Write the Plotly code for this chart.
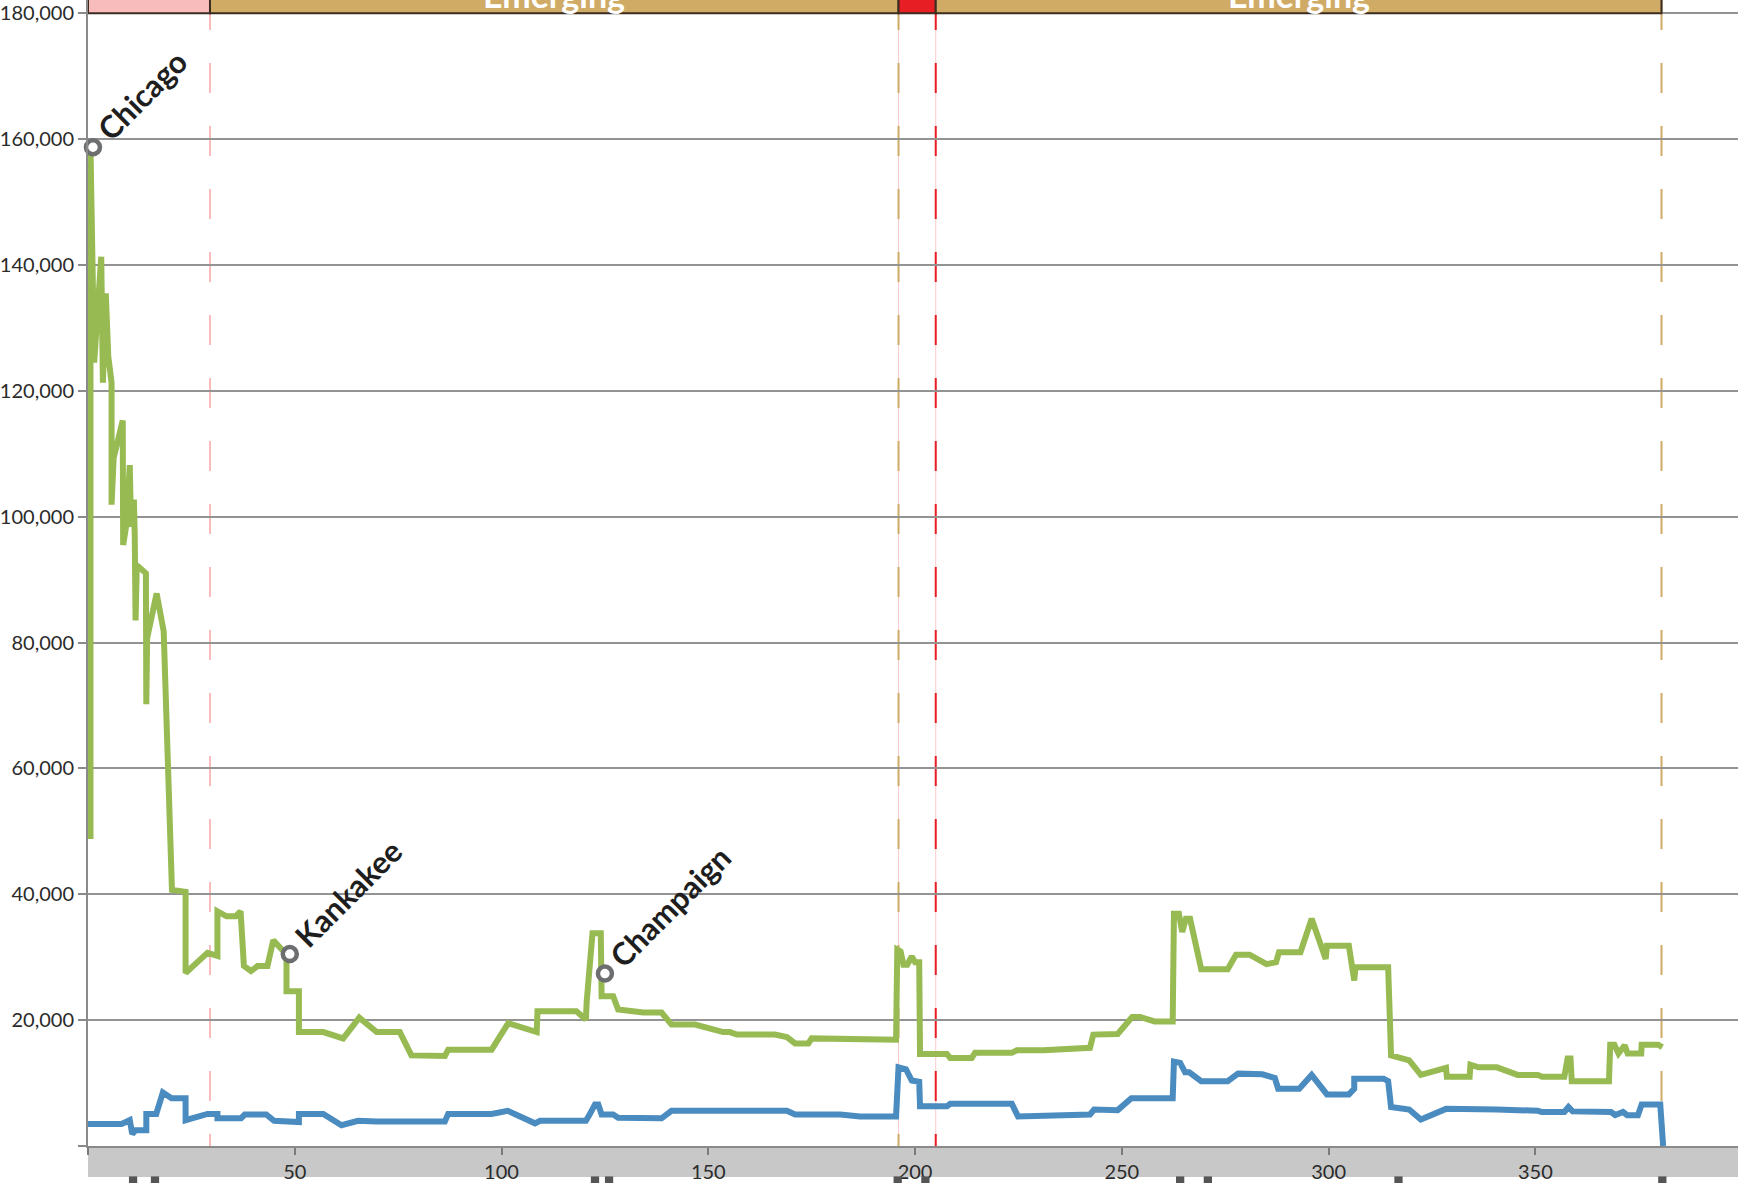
import plotly.graph_objects as go

# ---------------- data ----------------
green_x = [0.6, 0.6, 1.5, 3.2, 3.6, 4.3, 4.9, 5.7, 5.7, 6.2, 8.4, 8.5, 9.3, 10.1, 10.4, 11.1, 11.3, 11.5,
           11.8, 13.0, 14.0, 14.1, 14.3, 16.6, 18.3, 20.3, 23.6, 23.6, 28.9, 31.3, 31.3, 33.5, 35.7, 36.9,
           37.7, 39.4, 41.0, 43.4, 44.8, 47.2, 48.0, 48.0, 51.0, 51.0, 56.9, 61.7, 65.6, 69.8, 75.4, 78.2,
           86.3, 87.1, 97.6, 101.6, 108.5, 108.7, 118.1, 120.4, 120.6, 122.0, 124.0, 124.2, 127.0, 128.2,
           134.3, 138.7, 141.1, 146.8, 153.6, 155.2, 156.9, 166.1, 169.0, 171.0, 174.2, 175.0, 181.9, 186.7,
           195.4, 195.7, 196.5, 197.2, 198.1, 199.2, 200.0, 201.0, 201.2, 207.7, 208.5, 213.7, 214.5, 223.4,
           224.6, 231.0, 242.3, 243.1, 249.0, 252.5, 254.4, 257.9, 262.3, 262.6, 263.8, 264.6, 265.5, 266.5,
           269.2, 275.6, 277.6, 280.9, 285.0, 287.3, 288.0, 293.2, 295.9, 299.3, 299.6, 304.9, 305.9, 306.2,
           306.5, 314.4, 315.1, 319.5, 322.3, 328.4, 328.6, 334.1, 334.3, 336.3, 340.7, 345.7, 350.6, 351.6,
           357.0, 357.8, 358.5, 358.8, 367.8, 368.1, 369.1, 370.1, 371.6, 372.3, 375.6, 375.7, 379.7, 380.7]
green_y = [48800, 158700, 124500, 141300, 121300, 135500, 125500, 121300, 101900, 109300, 115300, 95500,
           98800, 108200, 98400, 102700, 97100, 83500, 92300, 91600, 91000, 70200, 80700, 87800, 81800,
           40700, 40400, 27500, 30700, 30200, 37300, 36500, 36500, 37300, 28600, 27800, 28600, 28600, 32700,
           31000, 30000, 24600, 24600, 18100, 18100, 17100, 20400, 18100, 18100, 14400, 14300, 15300, 15300,
           19500, 18100, 21400, 21400, 20100, 23000, 33800, 33800, 23800, 23800, 21700, 21200, 21200, 19300,
           19300, 18100, 18100, 17700, 17700, 17300, 16300, 16300, 17100, 17100, 16900, 16900, 31200, 30900,
           28800, 28800, 30100, 29200, 29200, 14600, 14600, 14000, 14000, 14800, 14800, 15200, 15200, 15600,
           17700, 17800, 20500, 20500, 19800, 19800, 36900, 36900, 34000, 36100, 36100, 28100, 28100, 30400,
           30400, 28900, 29200, 30800, 30800, 36100, 29700, 31800, 31800, 28100, 26300, 28400, 28400, 14400,
           13600, 11300, 12400, 11000, 11000, 12900, 12500, 12500, 11300, 11300, 11000, 11000, 13900, 13900,
           10300, 10300, 16100, 16100, 14700, 16000, 14700, 14700, 16100, 16100, 15700]

blue_x = [0.0, 8.1, 10.1, 10.7, 11.5, 14.1, 14.1, 16.5, 18.1, 20.2, 23.6, 23.6, 28.9, 31.3, 31.3, 37.0,
          37.9, 43.1, 45.0, 51.0, 51.0, 56.9, 61.3, 65.3, 69.8, 86.3, 87.1, 97.6, 101.5, 108.1, 109.3,
          120.4, 121.4, 122.6, 123.4, 124.2, 127.0, 128.2, 138.7, 141.1, 169.0, 171.0, 181.9, 186.7, 195.4,
          196.0, 197.8, 199.2, 201.0, 201.2, 207.7, 208.5, 223.4, 224.9, 242.3, 243.3, 249.0, 252.3, 262.3,
          262.6, 264.1, 264.8, 265.3, 266.3, 269.2, 275.6, 278.1, 284.0, 287.0, 287.8, 292.9, 295.9, 299.6,
          304.9, 306.2, 306.2, 313.3, 314.4, 315.1, 319.5, 322.3, 328.4, 334.1, 340.7, 350.6, 351.6, 357.0,
          358.0, 359.0, 368.3, 369.3, 371.2, 372.2, 374.8, 375.7, 380.2, 380.9]
blue_y = [3500, 3500, 4100, 1900, 2500, 2500, 5100, 5100, 8500, 7600, 7600, 4100, 5100, 5100, 4400, 4400,
          5000, 5000, 4000, 3800, 5100, 5100, 3300, 4000, 3900, 3900, 5100, 5100, 5600, 3600, 4000, 4000,
          5100, 6600, 6600, 5000, 5000, 4500, 4400, 5600, 5600, 5000, 5000, 4700, 4700, 12500, 12200, 10400,
          10200, 6300, 6300, 6700, 6700, 4700, 5000, 5800, 5700, 7600, 7600, 13400, 13200, 12500, 11700,
          11700, 10300, 10300, 11500, 11400, 10800, 9100, 9100, 11300, 8200, 8200, 9100, 10700, 10700, 10300,
          6200, 5800, 4200, 5900, 5900, 5800, 5600, 5400, 5400, 6200, 5500, 5400, 4900, 5400, 4900, 4900,
          6600, 6600, 0]

city_names = ["Chicago", "Kankakee", "Champaign"]
city_x = [1.2, 48.8, 125.0]
city_y = [158700, 30500, 27400]

band_starts = [0, 29.5, 196, 205]
band_ends = [29.5, 196, 205, 380.5]
band_labels = ["", "Emerging", "", "Emerging"]
band_colors = ["#f9bcbc", "#cfab66", "#e81e25", "#cfab66"]

rug_x = [10.9, 16.2, 122.6, 126.0, 195.8, 202.5, 264.1, 270.8, 316.9, 380.7]

y_ticks = [0, 20000, 40000, 60000, 80000, 100000, 120000, 140000, 160000, 180000]
x_ticks = [0, 50, 100, 150, 200, 250, 300, 350]

GREEN = "#97bb52"
BLUE = "#4a8bc0"
FONT = "Lato"

fig = go.Figure()
fig.add_trace(go.Scatter(x=green_x, y=green_y, mode="lines",
                         line=dict(color=GREEN, width=6), hoverinfo="skip", showlegend=False))
fig.add_trace(go.Scatter(x=blue_x, y=blue_y, mode="lines",
                         line=dict(color=BLUE, width=6), hoverinfo="skip", showlegend=False))
fig.add_trace(go.Scatter(x=city_x, y=city_y, mode="markers",
                         marker=dict(size=14, color="white", line=dict(color="#6d6e70", width=4.5)),
                         hoverinfo="skip", showlegend=False, cliponaxis=False))

for name, cx, cy in zip(city_names, city_x, city_y):
    fig.add_annotation(x=cx, y=cy, text="<b>" + name + "</b>", showarrow=False, textangle=-45,
                       xanchor="left", yanchor="bottom", xshift=-6, yshift=-3,
                       font=dict(family=FONT, size=31, color="#1e1e1e"))

shapes = []
# top phase bands
for s, e, c in zip(band_starts, band_ends, band_colors):
    shapes.append(dict(type="rect", xref="x", yref="y", x0=s, x1=e, y0=180000, y1=200000,
                       fillcolor=c, line=dict(color="#3b2c20", width=2), layer="above"))
# thin light lines at red band edges
for xv in [band_starts[2], band_ends[2]]:
    shapes.append(dict(type="line", xref="x", yref="paper", x0=xv, x1=xv, y0=1, y1=0,
                       line=dict(color="#f9caca", width=1), layer="below"))
# dashed boundary lines, coloured like the band they close
for e, c in zip(band_ends, band_colors):
    shapes.append(dict(type="line", xref="x", yref="paper", x0=e, x1=e, y0=1, y1=0,
                       line=dict(color=c, width=2, dash="30px,33px"), layer="below"))
# grey band under the x axis
shapes.append(dict(type="rect", xref="paper", yref="paper", x0=0, x1=1.01, y0=0, y1=-31 / 1150,
                   fillcolor="#c8c8c8", line=dict(width=0), layer="below"))
# small dark marks at the very bottom
for rx in rug_x:
    shapes.append(dict(type="rect", xref="x", yref="paper", x0=rx - 1.0, x1=rx + 1.0,
                       y0=-30.5 / 1150, y1=-0.05, fillcolor="#555555", line=dict(width=0), layer="above"))
fig.update_layout(shapes=shapes)

for s, e, lab in zip(band_starts, band_ends, band_labels):
    if lab:
        fig.add_annotation(x=(s + e) / 2, y=1, xref="x", yref="paper", text="<b>" + lab + "</b>",
                           showarrow=False, xanchor="center", yanchor="bottom", yshift=-17,
                           font=dict(family=FONT, size=34, color="white"))

fig.update_layout(
    width=1738, height=1183,
    margin=dict(l=88, r=0, t=0, b=33, pad=0),
    paper_bgcolor="white", plot_bgcolor="white",
    font=dict(family=FONT, size=20, color="#2b2b2b"),
    xaxis=dict(range=[0, 399], tickvals=x_ticks,
               ticktext=["" if v == 0 else str(v) for v in x_ticks],
               showgrid=False, zeroline=False, showline=True, linecolor="#8a8a8a", linewidth=2,
               ticks="outside", ticklen=7, tickwidth=2, tickcolor="#7a7a7a",
               tickfont=dict(family=FONT, size=20, color="#2b2b2b")),
    yaxis=dict(range=[0, 182100], tickvals=y_ticks,
               ticktext=["" if v == 0 else f"{v:,}" for v in y_ticks],
               showgrid=True, gridcolor="#939393", gridwidth=2, zeroline=False,
               showline=True, linecolor="#8a8a8a", linewidth=2,
               ticks="outside", ticklen=8, tickwidth=2, tickcolor="#8a8a8a",
               tickfont=dict(family=FONT, size=20, color="#2b2b2b")),
)

fig.write_html("out.html", config={"displayModeBar": False},
               post_script="document.body.style.margin='0px';")
